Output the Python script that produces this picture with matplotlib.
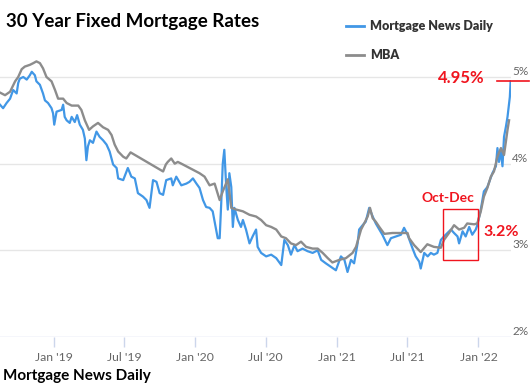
import matplotlib
matplotlib.use("Agg")
import matplotlib.pyplot as plt
import matplotlib.dates as mdates
from matplotlib.patches import Rectangle
import pandas as pd

plt.rcParams['font.family'] = ['Lato', 'DejaVu Sans']

# Mortgage News Daily (daily index)
mnd_dates = [
 "2018-08-15","2018-08-23","2018-09-01","2018-09-10","2018-09-18","2018-09-27","2018-10-01","2018-10-05",
 "2018-10-14","2018-10-23","2018-10-31","2018-11-05","2018-11-13","2018-11-17","2018-11-26","2018-12-04",
 "2018-12-09","2018-12-17","2018-12-26","2018-12-30","2019-01-02","2019-01-08","2019-01-21","2019-01-25",
 "2019-01-29","2019-02-03","2019-02-11","2019-02-16","2019-02-24","2019-03-02","2019-03-09","2019-03-17",
 "2019-03-22","2019-03-26","2019-03-30","2019-04-04","2019-04-12","2019-04-21","2019-04-29","2019-05-08",
 "2019-05-17","2019-05-25","2019-06-03","2019-06-12","2019-06-16","2019-06-29","2019-07-11","2019-07-20",
 "2019-07-29","2019-08-06","2019-08-19","2019-08-28","2019-09-05","2019-09-14","2019-09-23","2019-10-01",
 "2019-10-10","2019-10-18","2019-10-31","2019-11-04","2019-11-13","2019-11-26","2019-12-09","2019-12-17",
 "2019-12-26","2020-01-04","2020-01-12","2020-01-21","2020-01-29","2020-02-07","2020-02-15","2020-02-24",
 "2020-02-28","2020-03-04","2020-03-08","2020-03-12","2020-03-16","2020-03-21","2020-03-25","2020-03-29",
 "2020-04-03","2020-04-07","2020-04-11","2020-04-20","2020-04-28","2020-05-03","2020-05-11","2020-05-20",
 "2020-05-28","2020-06-06","2020-06-10","2020-06-19","2020-07-02","2020-07-15","2020-07-28","2020-08-10",
 "2020-08-18","2020-08-27","2020-09-04","2020-09-13","2020-09-21","2020-10-04","2020-10-17","2020-10-30",
 "2020-11-12","2020-11-21","2020-12-03","2020-12-16","2020-12-29","2021-01-11","2021-01-20","2021-01-28",
 "2021-02-06","2021-02-14","2021-02-23","2021-02-27","2021-03-08","2021-03-16","2021-03-25","2021-04-03",
 "2021-04-11","2021-04-20","2021-04-28","2021-05-11","2021-05-20","2021-06-02","2021-06-15","2021-06-23",
 "2021-07-02","2021-07-15","2021-07-23","2021-08-01","2021-08-05","2021-08-14","2021-08-23","2021-08-31",
 "2021-09-08","2021-09-17","2021-09-26","2021-10-04","2021-10-13","2021-10-22","2021-10-30","2021-11-08",
 "2021-11-12","2021-11-21","2021-11-29","2021-12-08","2021-12-16","2021-12-25","2021-12-29","2022-01-07",
 "2022-01-15","2022-01-24","2022-02-06","2022-02-15","2022-02-19","2022-02-23","2022-02-28","2022-03-04",
 "2022-03-08","2022-03-13","2022-03-17","2022-03-21","2022-03-23","2022-03-25"]
mnd_rates = [
 4.68,4.64,4.70,4.75,4.85,4.81,4.93,4.98,
 5.00,4.97,5.02,5.06,5.02,4.95,4.91,4.81,
 4.73,4.70,4.64,4.58,4.45,4.60,4.62,4.68,
 4.54,4.50,4.47,4.54,4.48,4.56,4.45,4.39,
 4.29,4.04,4.20,4.27,4.24,4.37,4.31,4.27,
 4.22,4.14,3.99,3.95,3.83,3.81,3.95,3.85,
 3.83,3.66,3.62,3.58,3.49,3.81,3.79,3.66,
 3.64,3.81,3.83,3.75,3.85,3.75,3.77,3.79,
 3.83,3.77,3.72,3.58,3.50,3.49,3.45,3.24,
 3.14,3.14,3.54,4.00,4.16,3.73,3.47,3.89,
 3.73,3.27,3.49,3.35,3.27,3.35,3.24,3.08,
 3.16,3.24,3.04,2.97,2.93,2.95,2.91,2.83,
 3.12,3.06,2.95,3.06,2.99,3.02,2.99,2.97,
 3.00,2.89,2.85,2.81,2.77,2.93,2.89,2.75,
 2.89,2.85,3.08,3.24,3.29,3.33,3.49,3.39,
 3.31,3.24,3.18,3.06,3.14,3.16,3.18,3.26,
 3.18,3.02,2.93,2.87,2.79,2.97,2.93,2.97,
 2.95,2.97,3.12,3.16,3.20,3.24,3.20,3.16,
 3.08,3.22,3.16,3.27,3.18,3.24,3.29,3.47,
 3.68,3.73,3.89,3.97,4.18,4.02,4.14,3.97,
 4.31,4.43,4.54,4.70,4.77,4.95]

# MBA weekly survey
mba_dates = [
 "2018-08-15","2018-08-28","2018-09-10","2018-09-23","2018-10-01","2018-10-10","2018-10-18","2018-10-31",
 "2018-11-09","2018-11-17","2018-11-26","2018-12-04","2018-12-13","2018-12-26","2019-01-04","2019-01-12",
 "2019-01-25","2019-02-03","2019-02-16","2019-03-05","2019-03-13","2019-03-22","2019-04-02","2019-04-12",
 "2019-04-25","2019-05-08","2019-05-21","2019-05-30","2019-06-07","2019-06-16","2019-06-29","2019-07-07",
 "2019-07-18","2019-10-10","2019-10-17","2019-10-22","2019-10-31","2019-11-09","2019-11-17","2019-11-26",
 "2020-01-12","2020-01-25","2020-02-07","2020-02-20","2020-03-04","2020-03-12","2020-03-25","2020-04-03",
 "2020-04-16","2020-05-03","2020-05-20","2020-06-06","2020-06-19","2020-07-02","2020-07-15","2020-07-28",
 "2020-08-10","2020-08-22","2020-09-04","2020-09-17","2020-09-30","2020-10-13","2020-10-30","2020-11-12",
 "2020-11-25","2020-12-08","2020-12-20","2021-01-07","2021-01-24","2021-02-10","2021-02-19","2021-03-04",
 "2021-03-12","2021-03-21","2021-03-27","2021-04-03","2021-04-11","2021-04-20","2021-05-03","2021-05-24",
 "2021-06-15","2021-06-23","2021-07-02","2021-07-06","2021-07-19","2021-08-05","2021-08-22","2021-09-08",
 "2021-09-26","2021-10-04","2021-10-17","2021-10-30","2021-11-12","2021-11-25","2021-12-03","2021-12-21",
 "2021-12-29","2022-01-07","2022-01-15","2022-01-24","2022-02-02","2022-02-10","2022-02-19","2022-02-28",
 "2022-03-08","2022-03-17","2022-03-21"]
mba_rates = [
 4.82,4.79,4.83,4.95,5.00,5.09,5.12,5.14,
 5.16,5.18,5.16,5.10,5.00,4.95,4.85,4.75,
 4.75,4.70,4.67,4.67,4.62,4.50,4.39,4.43,
 4.47,4.42,4.39,4.33,4.22,4.14,4.08,4.06,
 4.13,3.91,3.99,4.02,4.06,4.00,4.02,4.00,
 3.89,3.85,3.75,3.77,3.58,3.68,3.82,3.49,
 3.47,3.45,3.41,3.39,3.35,3.29,3.27,3.24,
 3.16,3.14,3.08,3.06,3.10,3.04,3.02,3.02,
 2.97,2.91,2.86,2.89,2.91,2.97,3.04,3.24,
 3.31,3.39,3.49,3.37,3.33,3.27,3.19,3.20,
 3.20,3.20,3.20,3.14,3.06,2.98,3.07,3.04,
 3.03,3.12,3.20,3.29,3.24,3.26,3.31,3.30,
 3.31,3.45,3.62,3.72,3.85,3.91,4.08,4.18,
 4.10,4.39,4.50]

yticks = [2, 3, 4, 5]
ytick_labels = ["2%", "3%", "4%", "5%"]
xtick_dates = ["2019-01-01", "2019-07-01", "2020-01-01", "2020-07-01", "2021-01-01", "2021-07-01", "2022-01-01"]
xtick_labels = ["Jan '19", "Jul '19", "Jan '20", "Jul '20", "Jan '21", "Jul '21", "Jan '22"]

W, H = 530, 392
fig = plt.figure(figsize=(W / 100, H / 100), dpi=100)

def fx(px):
    return px / W

def fy(py):
    return 1 - py / H

ax_left, ax_right, ax_top, ax_bottom = 0, 511, 50, 337
ax = fig.add_axes([fx(ax_left), fy(ax_bottom), fx(ax_right - ax_left), (ax_bottom - ax_top) / H])

mnd_x = pd.to_datetime(mnd_dates)
mba_x = pd.to_datetime(mba_dates)

blue = '#4197e6'
gray = '#8c8c8c'
ax.plot(mnd_x, mnd_rates, color=blue, lw=1.6, zorder=3, label='Mortgage News Daily')
ax.plot(mba_x, mba_rates, color=gray, lw=1.7, zorder=4, label='MBA')

ax.set_xlim(pd.Timestamp("2018-08-15"), pd.Timestamp("2022-03-26"))
ax.set_ylim(2, 5 + 27 / 86.7)

for s in ax.spines.values():
    s.set_visible(False)
ax.axhline(2, color='#ccd6eb', lw=1, zorder=2)
for v in yticks[1:]:
    ax.axhline(v, color='#e6e6e6', lw=1, zorder=1)

ax.set_yticks([])
ax.set_xticks(pd.to_datetime(xtick_dates))
ax.set_xticklabels(xtick_labels)
ax.tick_params(axis='x', colors='#ccd6eb', length=7, width=1, labelcolor='#666666',
               labelsize=8.8, pad=4, direction='out')
ax.patch.set_alpha(0)

# right-side y labels sitting on the grid lines
for v, lab in zip(yticks, ytick_labels):
    ax.annotate(lab, xy=(1, v), xycoords=('axes fraction', 'data'), xytext=(1, 0),
                textcoords='offset points', ha='left', va='bottom', fontsize=8.5,
                color='#666666', annotation_clip=False)

# title & source
fig.text(fx(6), fy(22), "30 Year Fixed Mortgage Rates", fontsize=13.5, fontweight='bold',
         color='black', ha='left', va='center')
fig.text(fx(3), fy(376), "Mortgage News Daily", fontsize=11, fontweight='bold',
         color='black', ha='left', va='center')

# legend
leg = ax.legend(loc='upper left', bbox_to_anchor=(fx(341), fy(15)), bbox_transform=fig.transFigure,
                frameon=False, prop={'weight': 'heavy', 'size': 9}, handlelength=1.4,
                handletextpad=0.5, labelspacing=1.35, borderaxespad=0)
for t in leg.get_texts():
    t.set_color('#333333')
for l in leg.get_lines():
    l.set_linewidth(2)

red = '#f0141e'
# Oct-Dec box
box_x0 = mdates.date2num(pd.Timestamp("2021-10-01"))
box_x1 = mdates.date2num(pd.Timestamp("2021-12-31"))
ax.add_patch(Rectangle((box_x0, 2.89), box_x1 - box_x0, 3.48 - 2.89, fill=False,
                       edgecolor=red, lw=1, zorder=5))
fig.text(fx(448), fy(198), "Oct-Dec", fontsize=10, fontweight='bold', color=red,
         ha='center', va='center')
fig.text(fx(483), fy(232), "3.2%", fontsize=11.5, fontweight='bold', color=red,
         ha='left', va='center')

# 4.95% marker line
ax.plot([pd.Timestamp("2022-02-17"), pd.Timestamp("2022-05-11")], [4.955, 4.955],
        color=red, lw=1.2, clip_on=False, zorder=5)
fig.text(fx(485), fy(78), "4.95%", fontsize=12, fontweight='bold', color=red,
         ha='right', va='center')

fig.savefig("out.png", dpi=100)
